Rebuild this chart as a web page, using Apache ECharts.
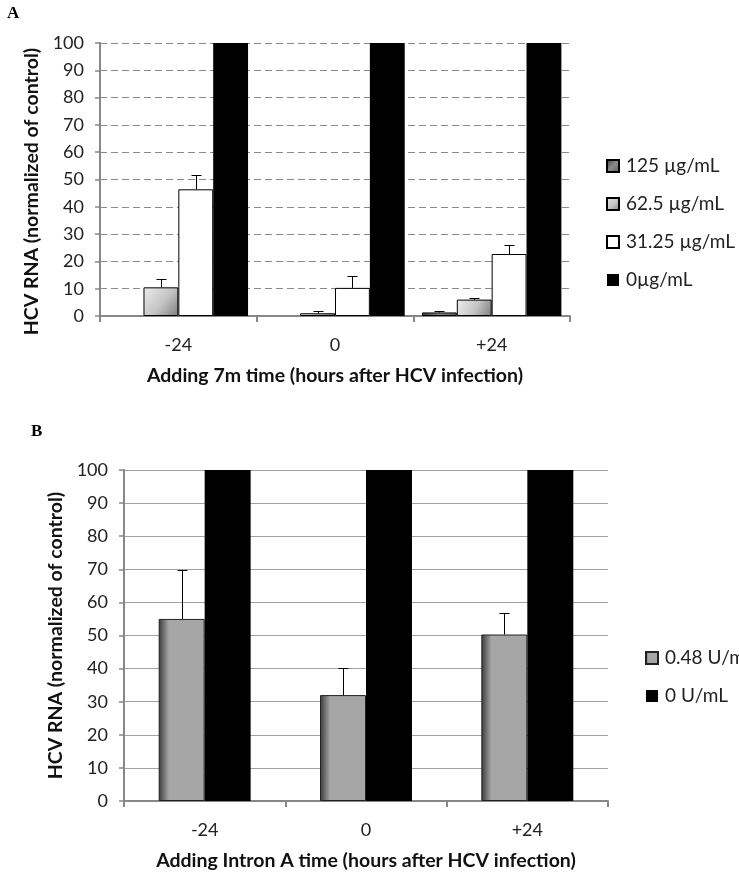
<!DOCTYPE html>
<html><head><meta charset="utf-8">
<script src="https://cdn.jsdelivr.net/npm/echarts@6/dist/echarts.min.js"></script>
<style>html,body{margin:0;padding:0;background:#fff}#c{width:739px;height:874px}</style>
</head><body><div id="c"></div>
<script>
// ---- Data: panel A ----
const timesA = ['-24', '0', '+24'];
const namesA = ['125 µg/mL', '62.5 µg/mL', '31.25 µg/mL', '0µg/mL'];
const a125 = [null, null, 1.3];
const a125Err = [null, null, 0.6];
const a625 = [10.5, 1.0, 6.0];
const a625Err = [3.1, 1.0, 0.6];
const a3125 = [46.4, 10.3, 22.7];
const a3125Err = [5.1, 4.5, 3.2];
const a0 = [100, 100, 100];
// ---- Data: panel B ----
const timesB = ['-24', '0', '+24'];
const namesB = ['0.48 U/mL', '0 U/mL'];
const b048 = [55.0, 32.0, 50.3];
const b048Err = [14.7, 8.2, 6.4];
const b0 = [100, 100, 100];
// ---- Axis ticks ----
const yMin = 0, yMax = 100, yStep = 10;

const FONT = 'Lato';
const AX = '#878787';
const gapA = 0.11, gapB = 0.43;

function errSeries(gi, idx, n, gap, vals, errs) {
  const data = [];
  vals.forEach((v, i) => { if (v != null && errs[i] != null) data.push([i, v, errs[i]]); });
  return {
    type: 'custom', xAxisIndex: gi, yAxisIndex: gi, silent: true, z: 10,
    renderItem: function (params, api) {
      const ci = api.value(0), v = api.value(1), e = api.value(2);
      const base = api.coord([ci, v]);
      const top = api.coord([ci, v + e]);
      const band = api.size([1, 0])[0];
      const tot = band * (1 - gap);
      const bw = tot / n;
      let x = base[0] - tot / 2 + (idx + 0.5) * bw;
      x = Math.round(x) + 0.5;
      const ty = Math.round(top[1]) + 0.5;
      const cap = 5;
      return {
        type: 'group', children: [
          { type: 'line', shape: { x1: x, y1: base[1], x2: x, y2: ty }, style: { stroke: '#000', lineWidth: 1 } },
          { type: 'line', shape: { x1: x - cap, y1: ty, x2: x + cap, y2: ty }, style: { stroke: '#000', lineWidth: 1 } }
        ]
      };
    },
    data: data
  };
}

const grad125 = new echarts.graphic.LinearGradient(0, 0, 1, 1, [
  { offset: 0, color: '#3c3c3c' }, { offset: 0.5, color: '#8a8a8a' }, { offset: 1, color: '#5a5a5a' }]);
const grad625 = new echarts.graphic.LinearGradient(0, 0, 1, 1, [
  { offset: 0, color: '#ececec' }, { offset: 0.55, color: '#c4c4c4' }, { offset: 1, color: '#7c7c7c' }]);
const gradB = new echarts.graphic.LinearGradient(0, 0, 1, 0, [
  { offset: 0, color: '#3a3a3a' }, { offset: 0.22, color: '#a6a6a6' }, { offset: 1, color: '#a6a6a6' }]);

function catAxis(gi, data, name) {
  return {
    type: 'category', gridIndex: gi, data: data,
    axisLine: { show: true, lineStyle: { color: AX, width: 2 } },
    axisTick: { show: true, length: 6, lineStyle: { color: AX, width: 2 } },
    axisLabel: { color: '#222', fontFamily: FONT, fontSize: 18, margin: 20 },
    name: name, nameLocation: 'middle', nameGap: 50,
    nameTextStyle: { color: '#111', fontFamily: FONT, fontSize: 19.5, fontWeight: 'bold' }
  };
}
function valAxis(gi, dashed, pad) {
  return {
    type: 'value', gridIndex: gi, min: yMin, max: yMax, interval: yStep,
    axisLine: { show: true, lineStyle: { color: AX, width: 2 } },
    axisTick: { show: true, length: 5, lineStyle: { color: AX, width: 1.5 } },
    axisLabel: { color: '#222', fontFamily: FONT, fontSize: 18, margin: 16 },
    splitLine: { show: true, lineStyle: dashed ? { color: '#8a8a8a', width: 1, type: [7, 4] } : { color: '#a0a0a0', width: 1 } },
    name: 'HCV RNA (normalized of control)', nameLocation: 'middle', nameGap: 56,
    nameTextStyle: { color: '#111', fontFamily: FONT, fontSize: 19.5, fontWeight: 'bold', padding: pad }
  };
}
function bar(gi, name, vals, style, gap) {
  return {
    type: 'bar', name: name, xAxisIndex: gi, yAxisIndex: gi, data: vals,
    barGap: '0%', barCategoryGap: (gap * 100) + '%', itemStyle: style
  };
}

const chart = echarts.init(document.getElementById('c'), null, { renderer: 'canvas' });
chart.setOption({
  animation: false,
  backgroundColor: '#fff',
  textStyle: { fontFamily: FONT },
  grid: [
    { left: 100, top: 43, width: 470, height: 273 },
    { left: 124, top: 470, width: 484, height: 331 }
  ],
  xAxis: [catAxis(0, timesA, 'Adding 7m time (hours after HCV infection)'),
          catAxis(1, timesB, 'Adding Intron A time (hours after HCV infection)')],
  yAxis: [valAxis(0, true, [0, 24, 0, 0]), valAxis(1, false, 0)],
  legend: [
    { data: namesA, orient: 'vertical', left: 601, top: 150, itemWidth: 12, itemHeight: 12, itemGap: 16,
      textStyle: { fontFamily: FONT, fontSize: 19, color: '#222', lineHeight: 22, padding: [0, 0, 0, 2] }, icon: 'rect', selectedMode: false },
    { data: namesB, orient: 'vertical', left: 640, top: 642, itemWidth: 12, itemHeight: 12, itemGap: 16,
      textStyle: { fontFamily: FONT, fontSize: 19, color: '#222', lineHeight: 22, padding: [0, 0, 0, 2] }, icon: 'rect', selectedMode: false }
  ],
  graphic: [
    { type: 'text', left: 7, top: 5, style: { text: 'A', font: 'bold 17px "Liberation Serif"', fill: '#000' } },
    { type: 'text', left: 31, top: 423, style: { text: 'B', font: 'bold 17px "Liberation Serif"', fill: '#000' } }
  ],
  series: [
    bar(0, namesA[0], a125, { color: grad125, borderColor: '#000', borderWidth: 1 }, gapA),
    bar(0, namesA[1], a625, { color: grad625, borderColor: '#000', borderWidth: 1 }, gapA),
    bar(0, namesA[2], a3125, { color: '#fff', borderColor: '#000', borderWidth: 1 }, gapA),
    bar(0, namesA[3], a0, { color: '#000' }, gapA),
    errSeries(0, 0, 4, gapA, a125, a125Err),
    errSeries(0, 1, 4, gapA, a625, a625Err),
    errSeries(0, 2, 4, gapA, a3125, a3125Err),
    bar(1, namesB[0], b048, { color: gradB, borderColor: '#222', borderWidth: 1 }, gapB),
    bar(1, namesB[1], b0, { color: '#000' }, gapB),
    errSeries(1, 0, 2, gapB, b048, b048Err)
  ]
});
</script></body></html>
